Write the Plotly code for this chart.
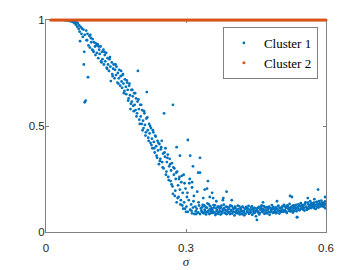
import plotly.graph_objects as go

# ---------------- data ----------------
# Cluster 1: transition region (sigma, value)
c1_trans_x = [
    0.040, 0.042, 0.044, 0.046, 0.048, 0.050, 0.051, 0.053, 0.055, 0.056,
    0.058, 0.059, 0.061, 0.062, 0.064, 0.065, 0.067, 0.068, 0.070, 0.071,
    0.072, 0.073, 0.074, 0.076, 0.077, 0.079, 0.080, 0.081, 0.082, 0.083,
    0.083, 0.085, 0.086, 0.088, 0.089, 0.090, 0.091, 0.093, 0.094, 0.096,
    0.097, 0.099, 0.100, 0.102, 0.103, 0.105, 0.106, 0.108, 0.109, 0.111,
    0.112, 0.114, 0.115, 0.117, 0.118, 0.120, 0.121, 0.123, 0.124, 0.126,
    0.127, 0.129, 0.130, 0.132, 0.133, 0.135, 0.136, 0.138, 0.139, 0.141,
    0.142, 0.144, 0.145, 0.147, 0.148, 0.150, 0.151, 0.153, 0.154, 0.156,
    0.157, 0.159, 0.160, 0.162, 0.163, 0.165, 0.166, 0.168, 0.169, 0.171,
    0.172, 0.174, 0.175, 0.177, 0.178, 0.180, 0.181, 0.183, 0.184, 0.186,
    0.187, 0.189, 0.190, 0.192, 0.193, 0.195, 0.196, 0.197, 0.199, 0.200,
    0.202, 0.203, 0.205, 0.206, 0.208, 0.209, 0.211, 0.212, 0.214, 0.215,
    0.216, 0.218, 0.219, 0.221, 0.222, 0.224, 0.225, 0.227, 0.228, 0.230,
    0.231, 0.233, 0.234, 0.236, 0.237, 0.239, 0.240, 0.242, 0.243, 0.245,
    0.246, 0.248, 0.249, 0.251, 0.252, 0.253, 0.255, 0.256, 0.258, 0.259,
    0.261, 0.262, 0.264, 0.265, 0.267, 0.268, 0.270, 0.271, 0.272, 0.272,
    0.274, 0.275, 0.277, 0.278, 0.280, 0.280, 0.281, 0.283, 0.284, 0.286,
    0.287, 0.287, 0.289, 0.290, 0.292, 0.293, 0.295, 0.296, 0.298, 0.299,
    0.301, 0.302, 0.304, 0.304, 0.306, 0.307, 0.309, 0.309, 0.311, 0.313,
    0.313, 0.315, 0.316, 0.318, 0.320, 0.321, 0.323, 0.324, 0.326, 0.326,
    0.328, 0.330, 0.330,
]
c1_trans_y = [
    1.000, 0.999, 1.000, 0.998, 0.997, 1.000, 0.995, 0.998, 0.993, 0.996,
    0.990, 0.994, 0.985, 0.992, 0.978, 0.990, 0.968, 0.984, 0.958, 0.975,
    0.945, 0.900, 0.968, 0.935, 0.960, 0.920, 0.955, 0.790, 0.850, 0.930,
    0.612, 0.620, 0.950, 0.905, 0.935, 0.730, 0.880, 0.925, 0.870, 0.915,
    0.895, 0.860, 0.910, 0.850, 0.895, 0.875, 0.835, 0.880, 0.845, 0.885,
    0.820, 0.860, 0.840, 0.875, 0.805, 0.850, 0.815, 0.860, 0.790, 0.835,
    0.805, 0.845, 0.775, 0.820, 0.790, 0.760, 0.815, 0.780, 0.712, 0.800,
    0.745, 0.770, 0.790, 0.725, 0.765, 0.740, 0.780, 0.705, 0.750, 0.725,
    0.765, 0.690, 0.735, 0.710, 0.680, 0.745, 0.700, 0.665, 0.720, 0.685,
    0.650, 0.705, 0.670, 0.630, 0.690, 0.645, 0.580, 0.670, 0.615, 0.640,
    0.595, 0.655, 0.600, 0.575, 0.630, 0.560, 0.615, 0.760, 0.580, 0.530,
    0.600, 0.545, 0.510, 0.575, 0.525, 0.490, 0.560, 0.505, 0.470, 0.535,
    0.660, 0.480, 0.445, 0.510, 0.465, 0.420, 0.490, 0.440, 0.395, 0.470,
    0.425, 0.375, 0.455, 0.405, 0.360, 0.430, 0.385, 0.320, 0.415, 0.345,
    0.390, 0.430, 0.330, 0.370, 0.300, 0.560, 0.355, 0.395, 0.285, 0.330,
    0.365, 0.260, 0.310, 0.345, 0.240, 0.290, 0.325, 0.215, 0.600, 0.180,
    0.270, 0.300, 0.195, 0.250, 0.140, 0.400, 0.285, 0.220, 0.165, 0.260,
    0.360, 0.200, 0.150, 0.235, 0.125, 0.185, 0.270, 0.140, 0.110, 0.205,
    0.120, 0.165, 0.434, 0.095, 0.150, 0.230, 0.360, 0.105, 0.130, 0.210,
    0.088, 0.115, 0.145, 0.085, 0.120, 0.098, 0.110, 0.190, 0.280, 0.092,
    0.125, 0.350, 0.085,
]

# Cluster 1: more points in the transition region
c1_mid_x = [
    0.087, 0.095, 0.101, 0.107, 0.113, 0.119, 0.125, 0.131, 0.137, 0.143,
    0.149, 0.155, 0.161, 0.164, 0.167, 0.173, 0.176, 0.179, 0.182, 0.185,
    0.188, 0.191, 0.194, 0.198, 0.201, 0.204, 0.207, 0.210, 0.213, 0.217,
    0.220, 0.223, 0.226, 0.229, 0.232, 0.235, 0.238, 0.241, 0.244, 0.247,
    0.250, 0.254, 0.257, 0.260, 0.263, 0.266, 0.269, 0.273, 0.276, 0.279,
    0.282, 0.285, 0.288, 0.291, 0.294, 0.297, 0.300, 0.303, 0.308, 0.312,
    0.317, 0.322, 0.327,
]
c1_mid_y = [
    0.905, 0.930, 0.855, 0.890, 0.875, 0.800, 0.850, 0.770, 0.825, 0.735,
    0.790, 0.700, 0.760, 0.740, 0.655, 0.715, 0.620, 0.700, 0.605, 0.670,
    0.570, 0.655, 0.545, 0.625, 0.510, 0.600, 0.480, 0.570, 0.455, 0.540,
    0.430, 0.500, 0.410, 0.480, 0.395, 0.450, 0.350, 0.420, 0.335, 0.400,
    0.305, 0.375, 0.270, 0.350, 0.245, 0.320, 0.225, 0.305, 0.170, 0.280,
    0.160, 0.250, 0.130, 0.265, 0.110, 0.230, 0.095, 0.185, 0.250, 0.100,
    0.170, 0.085, 0.140,
]

# Cluster 1: plateau, first set
c1_band_a_x = [
    0.332, 0.334, 0.336, 0.338, 0.340, 0.342, 0.344, 0.346, 0.348, 0.350,
    0.352, 0.354, 0.356, 0.358, 0.360, 0.362, 0.364, 0.366, 0.368, 0.370,
    0.372, 0.374, 0.376, 0.378, 0.380, 0.382, 0.384, 0.386, 0.388, 0.390,
    0.392, 0.394, 0.396, 0.398, 0.400, 0.402, 0.404, 0.406, 0.408, 0.410,
    0.412, 0.414, 0.416, 0.418, 0.420, 0.422, 0.424, 0.426, 0.428, 0.430,
    0.432, 0.434, 0.436, 0.438, 0.440, 0.442, 0.444, 0.446, 0.448, 0.450,
    0.452, 0.454, 0.456, 0.458, 0.460, 0.462, 0.464, 0.466, 0.468, 0.470,
    0.472, 0.474, 0.476, 0.478, 0.480, 0.482, 0.484, 0.486, 0.488, 0.490,
    0.492, 0.494, 0.496, 0.498, 0.500, 0.502, 0.504, 0.506, 0.508, 0.510,
    0.512, 0.514, 0.516, 0.518, 0.520, 0.522, 0.524, 0.526, 0.528, 0.530,
    0.532, 0.534, 0.536, 0.538, 0.540, 0.542, 0.544, 0.546, 0.548, 0.550,
    0.552, 0.554, 0.556, 0.558, 0.560, 0.562, 0.564, 0.566, 0.568, 0.570,
    0.572, 0.574, 0.576, 0.578, 0.580, 0.582, 0.584, 0.586, 0.588, 0.590,
    0.592, 0.594, 0.596, 0.598, 0.600,
]
c1_band_a_y = [
    0.112, 0.095, 0.128, 0.088, 0.105, 0.118, 0.092, 0.135, 0.100, 0.085,
    0.122, 0.098, 0.108, 0.090, 0.115, 0.126, 0.087, 0.102, 0.119, 0.094,
    0.110, 0.082, 0.124, 0.097, 0.106, 0.113, 0.089, 0.120, 0.101, 0.093,
    0.116, 0.085, 0.104, 0.122, 0.096, 0.109, 0.078, 0.114, 0.099, 0.088,
    0.107, 0.121, 0.091, 0.103, 0.084, 0.117, 0.098, 0.110, 0.087, 0.112,
    0.095, 0.123, 0.089, 0.105, 0.116, 0.081, 0.100, 0.111, 0.092, 0.074,
    0.057, 0.097, 0.118, 0.090, 0.108, 0.125, 0.094, 0.104, 0.086, 0.115,
    0.101, 0.088, 0.112, 0.120, 0.093, 0.106, 0.127, 0.090, 0.109, 0.098,
    0.116, 0.092, 0.105, 0.124, 0.087, 0.111, 0.100, 0.119, 0.095, 0.128,
    0.103, 0.114, 0.090, 0.122, 0.108, 0.132, 0.097, 0.118, 0.106, 0.125,
    0.099, 0.115, 0.128, 0.070, 0.110, 0.121, 0.104, 0.136, 0.112, 0.119,
    0.127, 0.101, 0.140, 0.116, 0.108, 0.131, 0.122, 0.145, 0.113, 0.126,
    0.118, 0.138, 0.124, 0.109, 0.142, 0.130, 0.115, 0.135, 0.121, 0.148,
    0.128, 0.139, 0.118, 0.144, 0.132,
]

# Cluster 1: plateau, second set
c1_band_b_x = [
    0.333, 0.335, 0.337, 0.339, 0.341, 0.343, 0.345, 0.347, 0.349, 0.351,
    0.353, 0.355, 0.357, 0.359, 0.361, 0.363, 0.365, 0.367, 0.369, 0.371,
    0.373, 0.375, 0.377, 0.379, 0.381, 0.383, 0.385, 0.387, 0.389, 0.391,
    0.393, 0.395, 0.397, 0.399, 0.401, 0.403, 0.405, 0.407, 0.409, 0.411,
    0.413, 0.415, 0.417, 0.419, 0.421, 0.423, 0.425, 0.427, 0.429, 0.431,
    0.433, 0.435, 0.437, 0.439, 0.441, 0.443, 0.445, 0.447, 0.449, 0.451,
    0.453, 0.455, 0.457, 0.459, 0.461, 0.463, 0.465, 0.467, 0.469, 0.471,
    0.473, 0.475, 0.477, 0.479, 0.481, 0.483, 0.485, 0.487, 0.489, 0.491,
    0.493, 0.495, 0.497, 0.499, 0.501, 0.503, 0.505, 0.507, 0.509, 0.511,
    0.513, 0.515, 0.517, 0.519, 0.521, 0.523, 0.525, 0.527, 0.529, 0.531,
    0.533, 0.535, 0.537, 0.539, 0.541, 0.543, 0.545, 0.547, 0.549, 0.551,
    0.553, 0.555, 0.557, 0.559, 0.561, 0.563, 0.565, 0.567, 0.569, 0.571,
    0.573, 0.575, 0.577, 0.579, 0.581, 0.583, 0.585, 0.587, 0.589, 0.591,
    0.593, 0.595, 0.597, 0.599,
]
c1_band_b_y = [
    0.102, 0.118, 0.091, 0.125, 0.099, 0.083, 0.114, 0.096, 0.130, 0.107,
    0.089, 0.113, 0.101, 0.127, 0.094, 0.080, 0.111, 0.098, 0.086, 0.120,
    0.097, 0.115, 0.088, 0.106, 0.129, 0.091, 0.103, 0.084, 0.117, 0.108,
    0.092, 0.126, 0.100, 0.087, 0.113, 0.095, 0.119, 0.090, 0.106, 0.124,
    0.096, 0.083, 0.112, 0.099, 0.120, 0.092, 0.079, 0.108, 0.118, 0.097,
    0.110, 0.086, 0.102, 0.093, 0.121, 0.107, 0.089, 0.114, 0.098, 0.104,
    0.112, 0.091, 0.083, 0.106, 0.119, 0.097, 0.109, 0.122, 0.101, 0.089,
    0.117, 0.105, 0.095, 0.081, 0.113, 0.099, 0.110, 0.118, 0.093, 0.107,
    0.088, 0.109, 0.121, 0.098, 0.113, 0.094, 0.116, 0.106, 0.123, 0.097,
    0.119, 0.096, 0.126, 0.111, 0.100, 0.114, 0.105, 0.120, 0.092, 0.113,
    0.124, 0.108, 0.098, 0.117, 0.130, 0.103, 0.123, 0.111, 0.127, 0.106,
    0.114, 0.133, 0.119, 0.105, 0.138, 0.110, 0.116, 0.129, 0.136, 0.120,
    0.131, 0.112, 0.127, 0.140, 0.118, 0.125, 0.146, 0.133, 0.122, 0.137,
    0.121, 0.134, 0.127, 0.112,
]

# Cluster 1: scattered points above the plateau
c1_out_x = [0.315, 0.330, 0.313, 0.340, 0.337, 0.345, 0.347, 0.351, 0.356, 0.358,
            0.365, 0.379, 0.380, 0.387, 0.398, 0.465, 0.495, 0.523, 0.527, 0.538,
            0.561, 0.575, 0.583, 0.598]
c1_out_y = [0.310, 0.280, 0.235, 0.200, 0.160, 0.205, 0.240, 0.165, 0.185, 0.160,
            0.145, 0.150, 0.160, 0.190, 0.150, 0.140, 0.145, 0.170, 0.165, 0.070,
            0.160, 0.155, 0.200, 0.165]

# Cluster 2: all at value 1
c2_x = [
    0.0100, 0.0125, 0.0150, 0.0175, 0.0200, 0.0225, 0.0250, 0.0275,
    0.0300, 0.0325, 0.0350, 0.0375, 0.0400, 0.0425, 0.0450, 0.0475,
    0.0500, 0.0525, 0.0550, 0.0575, 0.0600, 0.0625, 0.0650, 0.0675,
    0.0700, 0.0725, 0.0750, 0.0775, 0.0800, 0.0825, 0.0850, 0.0875,
    0.0900, 0.0925, 0.0950, 0.0975, 0.1000, 0.1025, 0.1050, 0.1075,
    0.1100, 0.1125, 0.1150, 0.1175, 0.1200, 0.1225, 0.1250, 0.1275,
    0.1300, 0.1325, 0.1350, 0.1375, 0.1400, 0.1425, 0.1450, 0.1475,
    0.1500, 0.1525, 0.1550, 0.1575, 0.1600, 0.1625, 0.1650, 0.1675,
    0.1700, 0.1725, 0.1750, 0.1775, 0.1800, 0.1825, 0.1850, 0.1875,
    0.1900, 0.1925, 0.1950, 0.1975, 0.2000, 0.2025, 0.2050, 0.2075,
    0.2100, 0.2125, 0.2150, 0.2175, 0.2200, 0.2225, 0.2250, 0.2275,
    0.2300, 0.2325, 0.2350, 0.2375, 0.2400, 0.2425, 0.2450, 0.2475,
    0.2500, 0.2525, 0.2550, 0.2575, 0.2600, 0.2625, 0.2650, 0.2675,
    0.2700, 0.2725, 0.2750, 0.2775, 0.2800, 0.2825, 0.2850, 0.2875,
    0.2900, 0.2925, 0.2950, 0.2975, 0.3000, 0.3025, 0.3050, 0.3075,
    0.3100, 0.3125, 0.3150, 0.3175, 0.3200, 0.3225, 0.3250, 0.3275,
    0.3300, 0.3325, 0.3350, 0.3375, 0.3400, 0.3425, 0.3450, 0.3475,
    0.3500, 0.3525, 0.3550, 0.3575, 0.3600, 0.3625, 0.3650, 0.3675,
    0.3700, 0.3725, 0.3750, 0.3775, 0.3800, 0.3825, 0.3850, 0.3875,
    0.3900, 0.3925, 0.3950, 0.3975, 0.4000, 0.4025, 0.4050, 0.4075,
    0.4100, 0.4125, 0.4150, 0.4175, 0.4200, 0.4225, 0.4250, 0.4275,
    0.4300, 0.4325, 0.4350, 0.4375, 0.4400, 0.4425, 0.4450, 0.4475,
    0.4500, 0.4525, 0.4550, 0.4575, 0.4600, 0.4625, 0.4650, 0.4675,
    0.4700, 0.4725, 0.4750, 0.4775, 0.4800, 0.4825, 0.4850, 0.4875,
    0.4900, 0.4925, 0.4950, 0.4975, 0.5000, 0.5025, 0.5050, 0.5075,
    0.5100, 0.5125, 0.5150, 0.5175, 0.5200, 0.5225, 0.5250, 0.5275,
    0.5300, 0.5325, 0.5350, 0.5375, 0.5400, 0.5425, 0.5450, 0.5475,
    0.5500, 0.5525, 0.5550, 0.5575, 0.5600, 0.5625, 0.5650, 0.5675,
    0.5700, 0.5725, 0.5750, 0.5775, 0.5800, 0.5825, 0.5850, 0.5875,
    0.5900, 0.5925, 0.5950, 0.5975, 0.6000,
]
c2_y = [1.0] * len(c2_x)

x_ticks = [0, 0.3, 0.6]
x_tick_labels = ["0", "0.3", "0.6"]
y_ticks = [0, 0.5, 1]
y_tick_labels = ["0", "0.5", "1"]

# ---------------- figure ----------------
c1_x = c1_trans_x + c1_mid_x + c1_band_a_x + c1_band_b_x + c1_out_x
c1_y = c1_trans_y + c1_mid_y + c1_band_a_y + c1_band_b_y + c1_out_y

BLUE = "#0072BD"
ORANGE = "#D95319"

fig = go.Figure()
fig.add_trace(go.Scatter(
    x=c1_x, y=c1_y, mode="markers", name="Cluster 1",
    marker=dict(color=BLUE, size=2.8, line=dict(width=0)),
))
fig.add_trace(go.Scatter(
    x=c2_x, y=c2_y, mode="markers", name="Cluster 2",
    marker=dict(color=ORANGE, size=3, line=dict(width=0)),
    cliponaxis=False,
))

axis_common = dict(
    showgrid=False, zeroline=False, showline=True, mirror="ticks",
    linecolor="#808080", linewidth=1,
    ticks="inside", ticklen=3, tickcolor="#808080", tickwidth=1,
    tickfont=dict(family="Liberation Sans, Arial, sans-serif", size=11.5, color="#262626"),
    layer="below traces", automargin=False,
)

fig.update_layout(
    width=360, height=270,
    margin=dict(l=46, r=34, t=20, b=38),
    paper_bgcolor="white", plot_bgcolor="white",
    xaxis=dict(range=[0, 0.6], tickvals=x_ticks, ticktext=x_tick_labels,
               ticklabelstandoff=5,
               title=dict(text="<i>σ</i>", standoff=2,
                          font=dict(family="Liberation Serif, serif", size=13, color="#262626")),
               **axis_common),
    yaxis=dict(range=[0, 1], tickvals=y_ticks, ticktext=y_tick_labels,
               ticklabelstandoff=-2, **axis_common),
    showlegend=True,
    legend=dict(
        x=0.971, y=0.967, xanchor="right", yanchor="top",
        bgcolor="white", bordercolor="#808080", borderwidth=1,
        font=dict(family="Liberation Serif, serif", size=13, color="#000000"),
        tracegroupgap=0,
    ),
)

fig.write_html("out.html", config={"displayModeBar": False},
               post_script="document.body.style.margin='0';")
